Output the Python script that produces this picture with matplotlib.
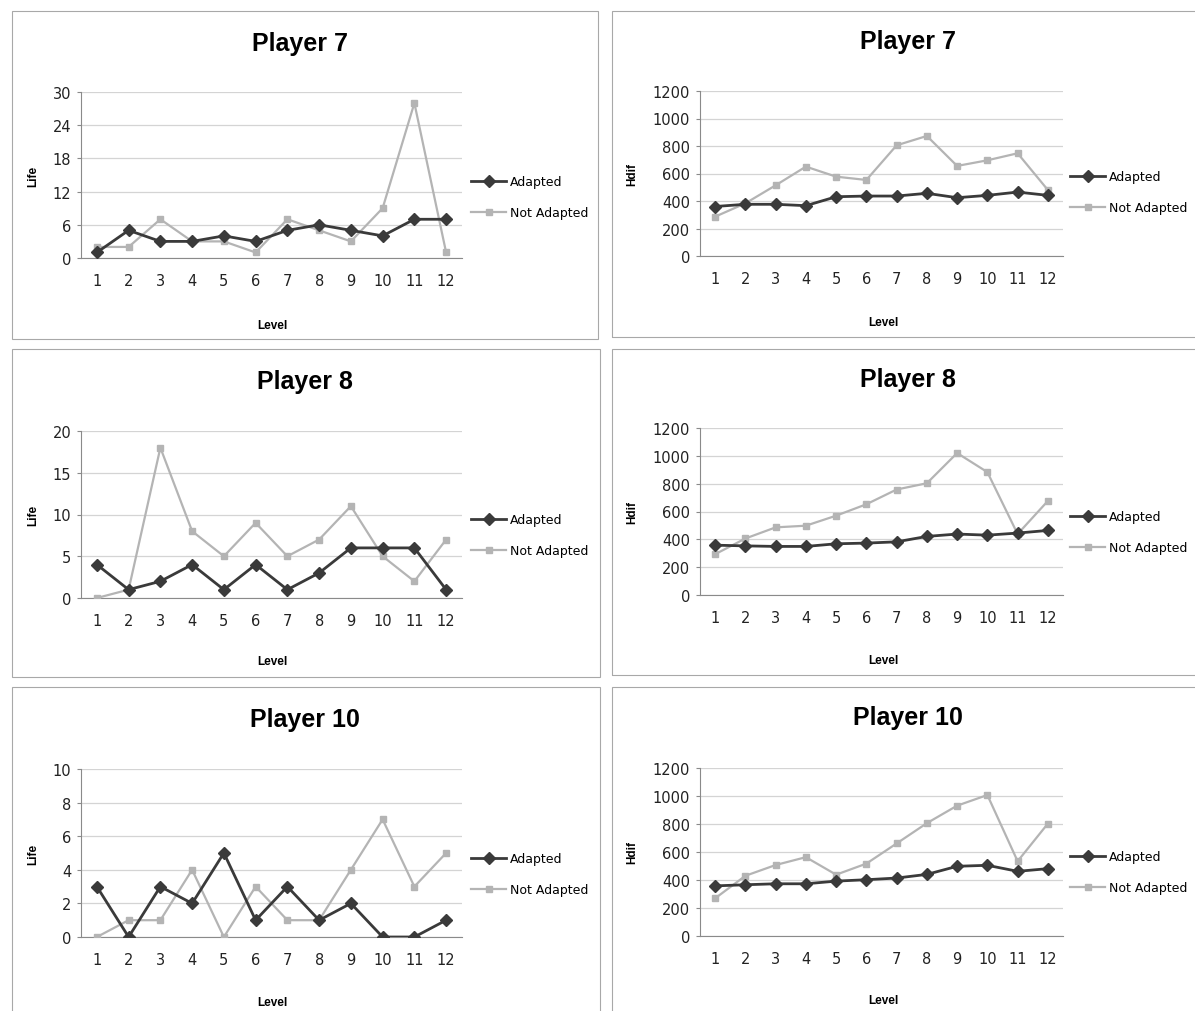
import numpy as np
import matplotlib.pyplot as plt
from matplotlib.patches import Rectangle

levels = np.arange(1, 13)
level_labels = [str(i) for i in levels]

p7_life_adapted = [1, 5, 3, 3, 4, 3, 5, 6, 5, 4, 7, 7]
p7_life_not = [2, 2, 7, 3, 3, 1, 7, 5, 3, 9, 28, 1]
p7_hdif_adapted = [360, 376, 376, 366, 431, 436, 436, 456, 424, 441, 465, 441]
p7_hdif_not = [286, 383, 514, 650, 577, 553, 805, 873, 655, 696, 747, 480]

p8_life_adapted = [4, 1, 2, 4, 1, 4, 1, 3, 6, 6, 6, 1]
p8_life_not = [0, 1, 18, 8, 5, 9, 5, 7, 11, 5, 2, 7]
p8_hdif_adapted = [358, 353, 349, 349, 368, 373, 382, 421, 438, 430, 445, 464]
p8_hdif_not = [293, 406, 486, 498, 570, 652, 758, 803, 1020, 883, 438, 676]

p10_life_adapted = [3, 0, 3, 2, 5, 1, 3, 1, 2, 0, 0, 1]
p10_life_not = [0, 1, 1, 4, 0, 3, 1, 1, 4, 7, 3, 5]
p10_hdif_adapted = [358, 366, 373, 373, 392, 402, 414, 440, 498, 505, 462, 481]
p10_hdif_not = [269, 430, 507, 563, 438, 517, 661, 806, 931, 1007, 534, 803]

W, H = 1195, 1012
fig = plt.figure(figsize=(W / 100, H / 100), dpi=100)
fig.patch.set_facecolor('white')

title_font = ['Liberation Sans Narrow', 'Liberation Sans', 'DejaVu Sans']
tick_font = ['DejaVu Sans']

dark = '#3a3a3a'
light = '#b4b4b4'


def fx(x):
    return x / W


def fy(y):
    return 1 - y / H


# frame box, axes box, title pos, labels, y range, legend pos, data
panels = [
    dict(frame=(12, 12, 598, 340), ax=(81, 93, 462, 259), title='Player 7', tx=300, ty=44,
         ylab='Life', ylx=33, lx=272, ly=326, ylim=30, yt=[0, 6, 12, 18, 24, 30],
         leg=(471, 176), a=p7_life_adapted, n=p7_life_not),
    dict(frame=(612, 12, 1200, 338), ax=(700, 92, 1063, 257), title='Player 7', tx=908, ty=42,
         ylab='Hdif', ylx=632, lx=883, ly=323, ylim=1200, yt=list(range(0, 1201, 200)),
         leg=(1070, 171), a=p7_hdif_adapted, n=p7_hdif_not),
    dict(frame=(12, 350, 600, 678), ax=(81, 432, 462, 599), title='Player 8', tx=305, ty=382,
         ylab='Life', ylx=33, lx=272, ly=662, ylim=20, yt=[0, 5, 10, 15, 20],
         leg=(471, 514), a=p8_life_adapted, n=p8_life_not),
    dict(frame=(612, 350, 1200, 676), ax=(700, 429, 1063, 596), title='Player 8', tx=908, ty=380,
         ylab='Hdif', ylx=632, lx=883, ly=661, ylim=1200, yt=list(range(0, 1201, 200)),
         leg=(1070, 511), a=p8_hdif_adapted, n=p8_hdif_not),
    dict(frame=(12, 688, 600, 1030), ax=(81, 770, 462, 938), title='Player 10', tx=305, ty=720,
         ylab='Life', ylx=33, lx=272, ly=1003, ylim=10, yt=[0, 2, 4, 6, 8, 10],
         leg=(471, 853), a=p10_life_adapted, n=p10_life_not),
    dict(frame=(612, 688, 1200, 1030), ax=(700, 769, 1063, 937), title='Player 10', tx=908, ty=718,
         ylab='Hdif', ylx=632, lx=883, ly=1001, ylim=1200, yt=list(range(0, 1201, 200)),
         leg=(1070, 851), a=p10_hdif_adapted, n=p10_hdif_not),
]

for p in panels:
    x0, y0, x1, y1 = p['frame']
    fig.add_artist(Rectangle((fx(x0), fy(y1)), fx(x1 - x0), (y1 - y0) / H,
                             transform=fig.transFigure, fill=False,
                             edgecolor='#a8a8a8', linewidth=0.8))

    a0, b0, a1, b1 = p['ax']
    ax = fig.add_axes([fx(a0), fy(b1), fx(a1 - a0), (b1 - b0) / H])
    ax.plot(levels, p['a'], color=dark, marker='D', markersize=6, linewidth=2.0,
            label='Adapted', zorder=4)
    ax.plot(levels, p['n'], color=light, marker='s', markersize=5, linewidth=1.6,
            label='Not Adapted', zorder=3)
    ax.set_xlim(0.5, 12.5)
    ax.set_ylim(0, p['ylim'])
    ax.set_yticks(p['yt'])
    ax.set_xticks(levels)
    ax.set_xticklabels(level_labels)
    ax.grid(axis='y', color='#d4d4d4', linewidth=0.9)
    ax.set_axisbelow(True)
    for s in ['top', 'right']:
        ax.spines[s].set_visible(False)
    ax.spines['left'].set_color('#8a8a8a')
    ax.spines['bottom'].set_color('#8a8a8a')
    ax.tick_params(axis='y', length=3, color='#8a8a8a', labelsize=10.5, pad=4)
    ax.tick_params(axis='x', length=0, labelsize=10.5, pad=11)
    for t in ax.get_xticklabels() + ax.get_yticklabels():
        t.set_family(tick_font)
        t.set_color('#222222')

    fig.text(fx(p['tx']), fy(p['ty']), p['title'], ha='center', va='center',
             fontsize=18, fontweight='bold', family=title_font)
    fig.text(fx(p['ylx']), fy((b0 + b1) / 2), p['ylab'], rotation=90, ha='center',
             va='center', fontsize=8.5, fontweight='bold', family=title_font)
    fig.text(fx(p['lx']), fy(p['ly']), 'Level', ha='center', va='center',
             fontsize=8.5, fontweight='bold', family=title_font)

    lx, ly = p['leg']
    fig.legend(*ax.get_legend_handles_labels(), loc='upper left',
               bbox_to_anchor=(fx(lx), fy(ly)), frameon=False,
               handlelength=2.8, handletextpad=0.3, labelspacing=1.45,
               borderaxespad=0, borderpad=0,
               prop={'family': tick_font, 'size': 9})

fig.savefig('out.png', dpi=100, facecolor='white')
